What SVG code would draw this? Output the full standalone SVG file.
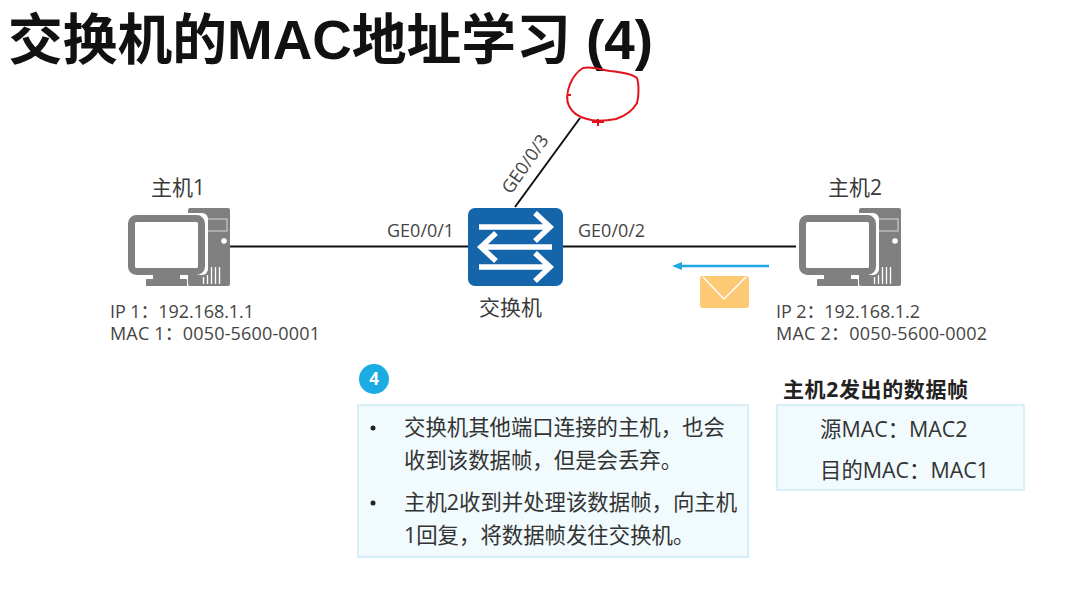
<svg xmlns="http://www.w3.org/2000/svg" width="1091" height="594" viewBox="0 0 1091 594">
<style>
text{font-family:"Open Sans","Noto Sans CJK SC",sans-serif;fill:#3a3a3a}
.t{font-size:21px}
.s{font-size:18px;fill:#444}
.b{font-size:21.4px;fill:#333}
.link{stroke:#111;stroke-width:2;fill:none}
.box{fill:#f1fafd;stroke:#cdeaf6;stroke-width:1.5}
</style>
<defs>
<g id="host">
<rect x="188" y="208" width="42" height="78" rx="2" fill="#808080"/>
<rect x="206" y="219" width="21" height="12" fill="#808080" stroke="#d8d8d8"/>
<circle cx="224" cy="241" r="2.800" fill="#fff"/>
<rect x="125" y="213" width="83" height="62" rx="6" fill="#fff"/>
<rect x="143" y="275" width="45" height="12" fill="#fff"/>
<path d="M203.500 277V284M207.500 275V284M211.500 267V284M215.500 267V284M219.500 267V284" stroke="#fff" stroke-width="1.300"/>
<rect x="131.500" y="218.500" width="70" height="53" rx="5" fill="#fff" stroke="#808080" stroke-width="7"/>
<path d="M153 275h27v4h6a1 1 0 0 1 1 1v6h-41v-6a1 1 0 0 1 1-1h6z" fill="#808080"/>
</g>
</defs>
<rect width="1091" height="594" fill="#fff"/>
<text x="8" y="59" style="font-family:'Liberation Sans','Noto Sans CJK SC',sans-serif;font-size:55px;font-weight:700;fill:#111" textLength="645" lengthAdjust="spacingAndGlyphs">交换机的MAC地址学习 (4)</text>
<g id="connectors">
<path class="link" d="M230 246.500H468M563 246.500H799M515 207L580 118"/>
<path d="M769 266H680" stroke="#1ea7e1" stroke-width="2.500"/>
<path d="M672 266l10-4v8z" fill="#1ea7e1"/>
<path d="M583 68C593 66 602 70 610 71C620 72 632 74 637 78C639 84 639 96 637 103C633 110 625 116 616 119C605 121 593 121 587 119C578 117 572 112 569 106C566 100 567 92 570 84C573 77 578 71 583 68ZM592 122H604M598 119V126M567 95H571" fill="none" stroke="#e0141c" stroke-width="2"/>
</g>
<g id="host1"><use href="#host"/><text class="t" x="151" y="195">主机1</text>
<text class="s" x="110" y="318" textLength="144">IP 1：192.168.1.1</text><text class="s" x="110" y="340" textLength="210">MAC 1：0050-5600-0001</text></g>
<g id="host2"><use href="#host" x="671"/><text class="t" x="828" y="195">主机2</text>
<text class="s" x="776" y="318" textLength="144">IP 2：192.168.1.2</text><text class="s" x="776" y="340" textLength="211">MAC 2：0050-5600-0002</text></g>
<g id="switch"><rect x="468" y="208" width="95" height="78" rx="7" fill="#1565ab"/>
<path d="M479 227H548M535 213L550 227L535 241M552 247H483M496 233L481 247L496 261M479 267H548M535 253L550 267L535 281" fill="none" stroke="#fff" stroke-width="5.500"/>
<text class="t" x="479" y="315">交换机</text></g>
<text class="s" x="387" y="237">GE0/0/1</text>
<text class="s" x="578" y="237">GE0/0/2</text>
<text class="s" transform="translate(511,195) rotate(-55)">GE0/0/3</text>
<g id="envelope"><rect x="700" y="276" width="49" height="32" rx="3" fill="#fdc974"/><path d="M703 277L724 299L746 277" fill="none" stroke="#fff" stroke-width="1.500"/></g>
<g id="step"><circle cx="374" cy="379" r="15" fill="#1aace3"/><text x="374" y="385" text-anchor="middle" style="font-size:17px;font-weight:700;fill:#fff">4</text></g>
<g id="note"><rect class="box" x="358" y="405" width="390" height="152"/>
<circle cx="373" cy="428" r="2.500" fill="#222"/><circle cx="373" cy="503" r="2.500" fill="#222"/>
<text class="b" x="404" y="435">交换机其他端口连接的主机，也会</text>
<text class="b" x="404" y="468">收到该数据帧，但是会丢弃。</text>
<text class="b" x="404" y="510">主机2收到并处理该数据帧，向主机</text>
<text class="b" x="404" y="543">1回复，将数据帧发往交换机。</text></g>
<g id="frame"><text x="783" y="397" style="font-size:21px;font-weight:700;fill:#222" textLength="185">主机2发出的数据帧</text>
<rect class="box" x="777" y="405" width="247" height="85"/>
<text class="b" x="820" y="437">源MAC：MAC2</text>
<text class="b" x="820" y="478">目的MAC：MAC1</text></g>
</svg>
